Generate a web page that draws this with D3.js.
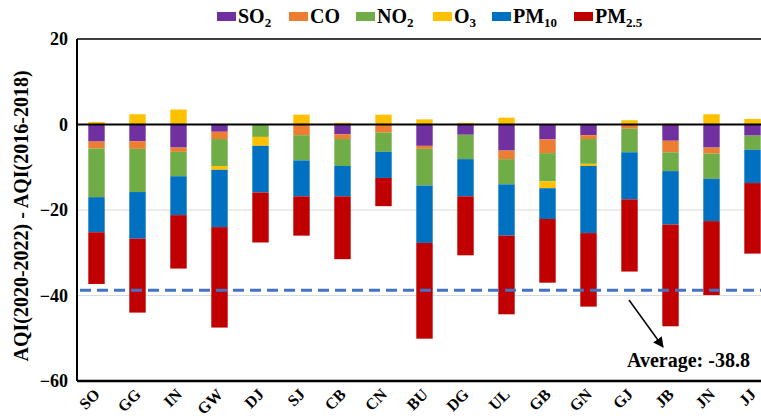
<!DOCTYPE html>
<html>
<head>
<meta charset="utf-8">
<script src="https://cdn.jsdelivr.net/npm/d3@7"></script>
<style>
  html, body { margin: 0; padding: 0; background: #fff; }
  svg { display: block; }
  svg text { font-family: "Liberation Serif", "Times New Roman", Times, "DejaVu Serif", serif; font-weight: 700; fill: #000; }
</style>
</head>
<body>
<svg id="chart" width="761" height="420"></svg>
<script>
// Sites and per-pollutant AQI change (2020-2022 minus 2016-2018)
const categories = ["SO","GG","IN","GW","DJ","SJ","CB","CN","BU","DG","UL","GB","GN","GJ","JB","JN","JJ"];
const so2  = [-4.0,-3.9,-5.4,-1.7, 0.0, 0.0,-2.3, 0.0,-5.0,-2.4,-6.1,-3.5,-2.5, 0.0,-3.8,-5.4,-2.6];
const co   = [-1.6,-1.8,-1.0,-1.7, 0.0,-2.5,-1.1,-1.9,-0.7, 0.0,-2.0,-3.2,-0.9,-1.0,-2.7,-1.4, 0.0];
const no2  = [-11.4,-10.1,-5.7,-6.3,-2.9,-5.9,-6.3,-4.5,-8.6,-5.7,-5.9,-6.6,-5.8,-5.5,-4.4,-5.9,-3.3];
const o3   = [0.6, 2.4, 3.5,-0.9,-2.1, 2.3, 0.4, 2.3, 1.2, 0.4, 1.6,-1.6,-0.5, 1.0, 0.2, 2.4, 1.3];
const pm10 = [-8.2,-10.9,-9.1,-13.4,-10.9,-8.4,-7.1,-6.1,-13.4,-8.7,-12.0,-7.2,-15.7,-11.0,-12.5,-9.9,-7.8];
const pm25 = [-12.1,-17.3,-12.5,-23.5,-11.7,-9.2,-14.7,-6.6,-22.4,-13.8,-18.4,-14.9,-17.2,-16.9,-23.8,-17.3,-16.5];
const averageValue = -38.8;
const yTicks = [20, 0, -20, -40, -60];

const seriesDefs = [
  { key: "SO2",  main: "SO", sub: "2",   values: so2,  color: "#7030A0" },
  { key: "CO",   main: "CO", sub: "",    values: co,   color: "#ED7D31" },
  { key: "NO2",  main: "NO", sub: "2",   values: no2,  color: "#70AD47" },
  { key: "O3",   main: "O",  sub: "3",   values: o3,   color: "#FFC000" },
  { key: "PM10", main: "PM", sub: "10",  values: pm10, color: "#0070C0" },
  { key: "PM25", main: "PM", sub: "2.5", values: pm25, color: "#C00000" }
];

const rows = categories.map((c, i) => {
  const r = { site: c };
  seriesDefs.forEach(s => r[s.key] = s.values[i]);
  return r;
});

const svg = d3.select("#chart");
const plot = { left: 77, right: 774, top: 39, bottom: 381 };

const x = d3.scaleBand().domain(categories)
  .range([plot.left - 1, plot.right - 1])
  .paddingInner(0.6).paddingOuter(0.3);
const y = d3.scaleLinear().domain([-60, 20]).range([plot.bottom, plot.top]);

// Gridlines
svg.append("g").selectAll("line").data(yTicks.filter(t => t !== 20 && t !== -60 && t !== 0))
  .join("line")
  .attr("x1", plot.left).attr("x2", plot.right)
  .attr("y1", d => y(d)).attr("y2", d => y(d))
  .attr("stroke", "#d9d9d9").attr("stroke-width", 1);

// Stacked bars (positive above zero, negative below)
const stack = d3.stack().keys(seriesDefs.map(s => s.key)).offset(d3.stackOffsetDiverging);
const layers = stack(rows);
svg.append("g").selectAll("g").data(layers).join("g")
  .attr("fill", (d, i) => seriesDefs[i].color)
  .selectAll("rect").data(d => d).join("rect")
  .attr("x", d => x(d.data.site))
  .attr("width", x.bandwidth())
  .attr("y", d => y(Math.max(d[0], d[1])))
  .attr("height", d => Math.abs(y(d[0]) - y(d[1])));

// Average line
svg.append("line")
  .attr("x1", plot.left + 3).attr("x2", plot.right)
  .attr("y1", y(averageValue)).attr("y2", y(averageValue))
  .attr("stroke", "#4472C4").attr("stroke-width", 3)
  .attr("stroke-dasharray", "11,6");

// Frame and zero line
svg.append("line").attr("x1", plot.left).attr("x2", plot.right)
  .attr("y1", y(0)).attr("y2", y(0)).attr("stroke", "#000").attr("stroke-width", 2);
svg.append("line").attr("x1", plot.left).attr("x2", plot.right)
  .attr("y1", plot.top).attr("y2", plot.top).attr("stroke", "#000").attr("stroke-width", 1.5);
svg.append("line").attr("x1", plot.left).attr("x2", plot.right)
  .attr("y1", plot.bottom).attr("y2", plot.bottom).attr("stroke", "#000").attr("stroke-width", 2.5);
svg.append("line").attr("x1", plot.left).attr("x2", plot.left)
  .attr("y1", plot.top).attr("y2", plot.bottom).attr("stroke", "#000").attr("stroke-width", 2);

// Y axis labels
const yAxis = svg.append("g").attr("transform", `translate(${plot.left},0)`)
  .call(d3.axisLeft(y).tickValues(yTicks).tickSize(0).tickPadding(9));
yAxis.select(".domain").remove();
yAxis.attr("font-family", null).attr("font-size", null);
yAxis.selectAll("text").style("font-size", "18px");

// X axis labels, slanted 45 degrees
svg.append("g").selectAll("g").data(categories).join("g")
  .attr("transform", d => `translate(${x(d) + x.bandwidth() / 2 + 1},${plot.bottom + 11})`)
  .append("text")
  .attr("transform", "rotate(-45)")
  .attr("text-anchor", "end")
  .attr("dy", "0.3em")
  .style("font-size", "16px")
  .text(d => d);

// Y axis title
svg.append("g").attr("transform", "translate(28,216)")
  .append("text")
  .attr("transform", "rotate(-90)")
  .attr("text-anchor", "middle")
  .style("font-size", "20px")
  .text("AQI(2020-2022) - AQI(2016-2018)");

// Legend
const legendX = [217, 289, 356, 433, 492, 574];
const legend = svg.append("g").selectAll("g").data(seriesDefs).join("g")
  .attr("transform", (d, i) => `translate(${legendX[i]},0)`);
legend.append("rect").attr("x", 0).attr("y", 12).attr("width", 19).attr("height", 9)
  .attr("fill", d => d.color);
const lt = legend.append("text").attr("x", 21).attr("y", 23).style("font-size", "20px");
lt.append("tspan").text(d => d.main);
lt.append("tspan").attr("dy", 4).style("font-size", "13px").text(d => d.sub);

// Arrow and average annotation
svg.append("defs").append("marker")
  .attr("id", "arrowhead").attr("viewBox", "0 0 10 10")
  .attr("refX", 9).attr("refY", 5)
  .attr("markerWidth", 7).attr("markerHeight", 7)
  .attr("orient", "auto")
  .append("path").attr("d", "M0,0 L10,5 L0,10 Z").attr("fill", "#000");
svg.append("line")
  .attr("x1", 629).attr("y1", 300).attr("x2", 663).attr("y2", 347)
  .attr("stroke", "#000").attr("stroke-width", 1.5)
  .attr("marker-end", "url(#arrowhead)");
svg.append("text")
  .attr("x", 627).attr("y", 367)
  .style("font-size", "20px")
  .text(`Average: ${averageValue}`);
</script>
</body>
</html>
